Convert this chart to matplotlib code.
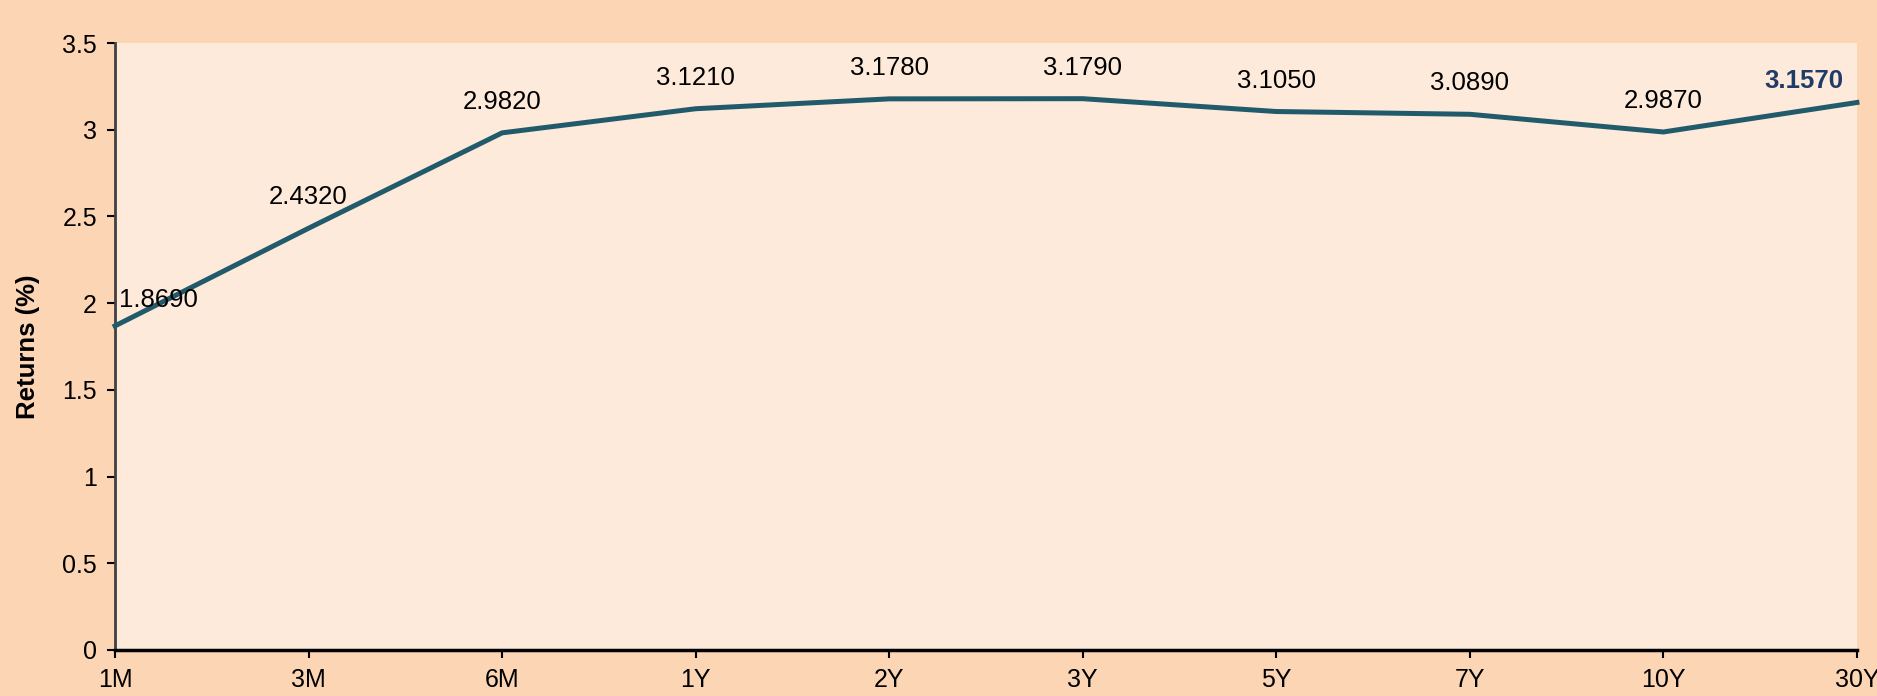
import matplotlib.pyplot as plt
from matplotlib.ticker import FuncFormatter

tenors = ['1M', '3M', '6M', '1Y', '2Y', '3Y', '5Y', '7Y', '10Y', '30Y']
returns = [1.869, 2.432, 2.982, 3.121, 3.178, 3.179, 3.105, 3.089, 2.987, 3.157]
y_ticks = [0, 0.5, 1, 1.5, 2, 2.5, 3, 3.5]

fig_bg = '#FCD5B5'
ax_bg = '#FDEADA'
line_color = '#215B6B'
last_color = '#1F3C68'

plt.rcParams['font.family'] = ['Liberation Sans', 'DejaVu Sans']

fig = plt.figure(figsize=(18.77, 6.96), dpi=100, facecolor=fig_bg)
ax = fig.add_axes([0.0613, 0.0661, 0.9280, 0.8721])
ax.set_facecolor(ax_bg)

x = list(range(len(tenors)))
ax.plot(x, returns, color=line_color, linewidth=3.6, solid_joinstyle='miter', clip_on=False, zorder=3)

for i, v in enumerate(returns):
    label = f'{v:.4f}'
    if i == 0:
        ax.annotate(label, (i, v), xytext=(4, 26), textcoords='offset pixels',
                    ha='left', va='center', fontsize=18.5, color='black')
    elif i == len(returns) - 1:
        ax.annotate(label, (i, v), xytext=(-14, 21), textcoords='offset pixels',
                    ha='right', va='center', fontsize=18.5, color=last_color, fontweight='bold')
    else:
        ax.annotate(label, (i, v), xytext=(0, 31), textcoords='offset pixels',
                    ha='center', va='center', fontsize=18.5, color='black')

ax.set_xlim(0, len(tenors) - 1)
ax.set_ylim(0, 3.5)
ax.set_xticks(x)
ax.set_xticklabels(tenors)
ax.set_yticks(y_ticks)
ax.yaxis.set_major_formatter(FuncFormatter(lambda v, p: f'{v:g}'))

ax.tick_params(axis='both', labelsize=18, direction='out', length=6, width=1.5, colors='black')
ax.tick_params(axis='y', pad=7)
ax.tick_params(axis='x', pad=7)

ax.spines['top'].set_visible(False)
ax.spines['right'].set_visible(False)
ax.spines['left'].set_color('#404040')
ax.spines['left'].set_linewidth(2)
ax.spines['bottom'].set_color('black')
ax.spines['bottom'].set_linewidth(2.5)

ax.set_ylabel('Returns (%)', fontsize=18.5, fontweight='bold', labelpad=16)

fig.savefig('out.png', dpi=100, facecolor=fig_bg)
